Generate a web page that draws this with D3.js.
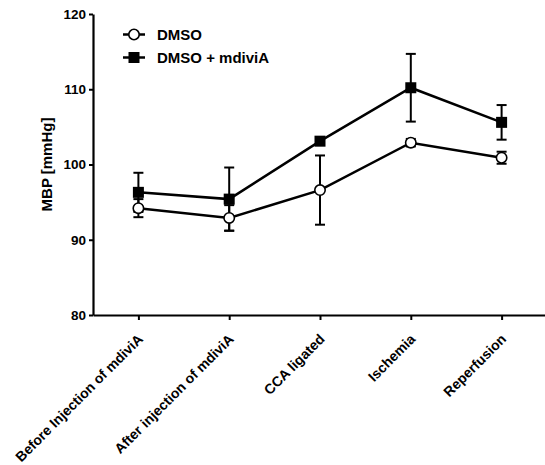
<!DOCTYPE html>
<html>
<head>
<meta charset="utf-8">
<script src="https://cdn.jsdelivr.net/npm/d3@7"></script>
<style>
  body { margin: 0; background: #fff; }
  svg { display: block; font-family: "Liberation Sans", Arial, sans-serif; font-weight: bold; }
</style>
</head>
<body>
<div id="chart"></div>
<script>
// MBP per time point, mean +/- error
const categories = ["Before Injection of mdiviA", "After injection of mdiviA", "CCA ligated", "Ischemia", "Reperfusion"];
const dmsoMean = [94.2, 92.9, 96.6, 102.9, 100.9];
const dmsoErr = [1.2, 1.7, 4.6, 0.5, 0.8];
const mdiviMean = [96.3, 95.4, 103.1, 110.2, 105.6];
const mdiviErr = [2.6, 4.2, 0.3, 4.5, 2.3];
const yTicks = [80, 90, 100, 110, 120];
const seriesNames = ["DMSO", "DMSO + mdiviA"];

const W = 545, H = 465;
const margin = { top: 14, left: 93, right: -2, bottom: 150 };

const svg = d3.select("#chart").append("svg")
    .attr("width", W).attr("height", H);

const x = d3.scalePoint().domain(categories)
    .range([margin.left, W - margin.right]).padding(0.5);
const y = d3.scaleLinear().domain([80, 120]).range([H - margin.bottom, margin.top]);

// Axes
const yAxis = svg.append("g")
    .attr("transform", `translate(${margin.left},0)`)
    .call(d3.axisLeft(y).tickValues(yTicks).tickSize(4).tickPadding(3).tickSizeOuter(0));
const xAxis = svg.append("g")
    .attr("transform", `translate(0,${y(80)})`)
    .call(d3.axisBottom(x).tickSize(5).tickSizeOuter(0));

[yAxis, xAxis].forEach(g => {
    g.select(".domain").attr("stroke", "#000").attr("stroke-width", 2.2);
    g.selectAll(".tick line").attr("stroke", "#000").attr("stroke-width", 2);
    g.selectAll("text").attr("fill", "#000").attr("font-family", "Liberation Sans, Arial, sans-serif").attr("font-weight", "bold");
});
yAxis.selectAll("text").attr("font-size", 13.5);
xAxis.selectAll("text")
    .attr("font-size", 14)
    .attr("text-anchor", "end")
    .attr("x", 0).attr("y", 0).attr("dy", 0)
    .attr("transform", "translate(5,25) rotate(-45)");

svg.append("text")
    .attr("transform", `translate(52,${y(100)}) rotate(-90)`)
    .attr("text-anchor", "middle")
    .attr("font-size", 15)
    .text("MBP [mmHg]");

// Series
const series = [
    { mean: dmsoMean, err: dmsoErr, marker: "circle" },
    { mean: mdiviMean, err: mdiviErr, marker: "square" }
];

const line = d3.line().x((d, i) => x(categories[i])).y(d => y(d));

series.forEach(s => {
    const g = svg.append("g");
    // error bars
    s.mean.forEach((m, i) => {
        const cx = x(categories[i]);
        const e = s.err[i];
        g.append("line").attr("x1", cx).attr("x2", cx)
            .attr("y1", y(m - e)).attr("y2", y(m + e))
            .attr("stroke", "#000").attr("stroke-width", 2);
        [m - e, m + e].forEach(v => {
            g.append("line").attr("x1", cx - 5).attr("x2", cx + 5)
                .attr("y1", y(v)).attr("y2", y(v))
                .attr("stroke", "#000").attr("stroke-width", 2);
        });
    });
    g.append("path").datum(s.mean).attr("d", line)
        .attr("fill", "none").attr("stroke", "#000").attr("stroke-width", 2.5);
});

series.forEach(s => {
    s.mean.forEach((m, i) => {
        const cx = x(categories[i]), cy = y(m);
        if (s.marker === "circle") {
            svg.append("circle").attr("cx", cx).attr("cy", cy).attr("r", 5.2)
                .attr("fill", "#fff").attr("stroke", "#000").attr("stroke-width", 1.6);
        } else {
            svg.append("rect").attr("x", cx - 5.5).attr("y", cy - 5.5)
                .attr("width", 11).attr("height", 11).attr("fill", "#000");
        }
    });
});

// Legend
const legend = svg.append("g");
seriesNames.forEach((name, i) => {
    const ly = 34.5 + i * 23;
    legend.append("line").attr("x1", 123).attr("x2", 145).attr("y1", ly).attr("y2", ly)
        .attr("stroke", "#000").attr("stroke-width", 2.5);
    if (i === 0) {
        legend.append("circle").attr("cx", 134).attr("cy", ly).attr("r", 5.2)
            .attr("fill", "#fff").attr("stroke", "#000").attr("stroke-width", 1.6);
    } else {
        legend.append("rect").attr("x", 128.5).attr("y", ly - 5.5)
            .attr("width", 11).attr("height", 11).attr("fill", "#000");
    }
    legend.append("text").attr("x", 157).attr("y", ly + 5.5)
        .attr("font-size", 15).text(name);
});
</script>
</body>
</html>
